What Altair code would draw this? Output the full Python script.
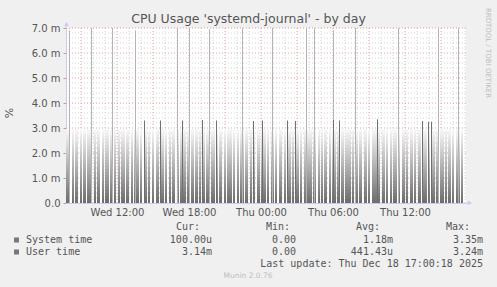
import altair as alt
import pandas as pd

# ---------------- data (x = 5-minute sample index, 0 = Wed 07:45) ----------------
x_tick_index = [51, 123, 195, 267, 339]
x_tick_labels = ["Wed 12:00", "Wed 18:00", "Thu 00:00", "Thu 06:00", "Thu 12:00"]
major_vgrid = [15, 51, 87, 123, 159, 195, 231, 267, 303, 339, 375]
minor_vgrid = [3, 27, 39, 63, 75, 99, 111, 135, 147, 171, 183, 207, 219, 243, 255,
               279, 291, 315, 327, 351, 363, 387, 399]
y_ticks = [0, 1, 2, 3, 4, 5, 6, 7]
y_minor = [0.2, 0.4, 0.6, 0.8, 1.2, 1.4, 1.6, 1.8, 2.2, 2.4, 2.6, 2.8, 3.2, 3.4, 3.6, 3.8,
           4.2, 4.4, 4.6, 4.8, 5.2, 5.4, 5.6, 5.8, 6.2, 6.4, 6.6, 6.8]

# base activity (gradient blocks): widths of busy blocks and idle gaps, in samples
bar_widths = [4, 2, 3, 2, 3, 5, 2, 3, 2, 4,
              3, 2, 2, 4, 3, 2, 5, 2, 3, 2,
              2, 3, 4, 2, 2, 3, 2, 6, 2, 3,
              3, 2, 2, 3, 4, 2, 3, 2, 5, 2,
              2, 4, 3, 2, 2, 3, 5, 2, 3, 2,
              3, 2, 4, 2, 3, 2, 2, 5, 3, 2,
              2, 3, 2, 4, 2, 3, 6, 2, 2, 3,
              3, 2, 5, 2, 3, 2, 2, 4, 2, 3,
              2, 3, 2, 3, 5, 2, 3, 2, 4, 2,
              3, 2, 4, 2]
gap_widths = [2, 1, 2, 1, 1, 2, 1, 2, 1, 1,
              1, 2, 1, 1, 2, 1, 1, 2, 1, 2,
              2, 1, 1, 2, 1, 2, 1, 1, 2, 1,
              1, 2, 1, 2, 1, 1, 2, 1, 1, 2,
              1, 1, 2, 1, 2, 1, 1, 2, 1, 2,
              2, 1, 1, 2, 1, 2, 1, 1, 2, 1,
              1, 2, 1, 1, 2, 1, 1, 2, 1, 2,
              1, 2, 1, 2, 1, 2, 1, 1, 2, 1,
              2, 1, 2, 1, 1, 2, 1, 2, 1, 1,
              1, 2, 1, 2]
bar_level = 2.95  # m%

# short dark spikes (~3.3 m)
dark_spike_idx = [78, 94, 116, 136, 150, 187, 196, 221, 229, 267, 273, 311, 356, 362, 365]
dark_spike_val = [3.30, 3.30, 3.30, 3.32, 3.30, 3.28, 3.30, 3.30, 3.28, 3.32, 3.30, 3.35, 3.28, 3.24, 3.25]
# tall thin spikes
tall_spike_idx = [3, 25, 46, 69, 111, 123, 143, 176, 206, 240, 248, 267, 289, 332, 372, 392]
tall_spike_val = [6.9, 7.0, 7.0, 6.9, 7.0, 7.0, 6.95, 7.0, 7.0, 7.0, 7.0, 6.9, 7.0, 7.0, 7.0, 7.0]

title_text = "CPU Usage 'systemd-journal' - by day"
legend_names = ["System time", "User time"]
legend_cur = ["100.00u", "3.14m"]
legend_min = ["0.00", "0.00"]
legend_avg = ["1.18m", "441.43u"]
legend_max = ["3.35m", "3.24m"]
last_update = "Last update: Thu Dec 18 17:00:18 2025"
footer = "Munin 2.0.76"
side_text = "RRDTOOL / TOBI OETIKER"

# ---------------- build tables ----------------
rows = []
pos = 0
for w, g in zip(bar_widths, gap_widths):
    rows.append({"x": pos, "v": bar_level})
    rows.append({"x": pos + w, "v": 0.0})
    pos += w + g
rows.append({"x": 400, "v": 0.0})
area_df = pd.DataFrame(rows)

dark_df = pd.DataFrame({"x": [i + 0.5 for i in dark_spike_idx], "v": dark_spike_val})
tall_df = pd.DataFrame({"x": [i + 0.5 for i in tall_spike_idx], "v": tall_spike_val})

XS = alt.Scale(domain=[0, 400], nice=False, zero=False)
YS = alt.Scale(domain=[0, 7], nice=False, zero=True)

FONT = "DejaVu Sans"
MONO = "DejaVu Sans Mono"
TXT = "#555555"

label_expr = "[" + ",".join("'%s'" % s for s in x_tick_labels) + "][indexof([" + \
    ",".join(str(v) for v in x_tick_index) + "], datum.value)]"

X_AX = alt.Axis(values=x_tick_index, labelExpr=label_expr, title=None, grid=False, ticks=False,
                domainColor="#c8ccf0", labelFont=FONT, labelFontSize=10, labelColor=TXT,
                labelPadding=4)
Y_AX = alt.Axis(values=y_ticks,
                labelExpr="datum.value == 0 ? '0.0' : format(datum.value, '.1f') + ' m'",
                title=None, grid=False, tickColor="#d89090", tickSize=3,
                domainColor="#c8ccf0", labelFont=FONT, labelFontSize=10, labelColor=TXT,
                labelPadding=3)


def X(field):
    return alt.X(field + ":Q", scale=XS, axis=X_AX)


def Y(field):
    return alt.Y(field + ":Q", scale=YS, axis=Y_AX)


def hrules(vals, color):
    return alt.Chart(pd.DataFrame({"y": vals})).mark_rule(
        color=color, strokeWidth=1, strokeDash=[1, 2]
    ).encode(y=Y("y"))


def vrules(vals, color):
    return alt.Chart(pd.DataFrame({"x": vals})).mark_rule(
        color=color, strokeWidth=1, strokeDash=[1, 2]
    ).encode(x=X("x"))


area = alt.Chart(area_df).mark_area(
    interpolate="step-after",
    color=alt.Gradient(
        gradient="linear",
        stops=[alt.GradientStop(color="#f8f8f8", offset=0),
               alt.GradientStop(color="#6c6c6c", offset=1)],
        x1=0, x2=0, y1=0, y2=1,
    ),
).encode(x=X("x"), y=Y("v"))

tall = alt.Chart(tall_df).mark_rule(color="#b4b4b4", strokeWidth=1).encode(
    x=X("x"), y=Y("v"), y2=alt.datum(0))
dark = alt.Chart(dark_df).mark_rule(color="#707070", strokeWidth=1).encode(
    x=X("x"), y=Y("v"), y2=alt.datum(0))


def txt(text, x, y, align="left", size=10, color=TXT, font=MONO, angle=0):
    kw = dict(align=align, baseline="middle", fontSize=size, color=color, font=font)
    if angle:
        kw["angle"] = angle
    return alt.Chart(pd.DataFrame({"t": [text]})).mark_text(**kw).encode(
        text="t:N", x=alt.value(x - 66), y=alt.value(y - 28))


one = pd.DataFrame({"a": [0]})
layers = [
    hrules(y_minor, "#d4d4d4"),
    vrules(minor_vgrid, "#d4d4d4"),
    hrules(y_ticks[1:], "#e4a0a0"),
    vrules(major_vgrid, "#e4a0a0"),
    area, tall, dark,
    # axis extensions and arrows
    alt.Chart(one).mark_rule(color="#c8ccf0").encode(
        x=alt.value(0), y=alt.value(-5), y2=alt.value(0)),
    alt.Chart(one).mark_rule(color="#c8ccf0").encode(
        x=alt.value(400), x2=alt.value(404), y=alt.value(175)),
    alt.Chart(one).mark_point(
        shape="triangle-up", filled=True, color="#c8ccf0", size=22, opacity=1).encode(
        x=alt.value(0.5), y=alt.value(-4)),
    alt.Chart(one).mark_point(
        shape="triangle-right", filled=True, color="#c8ccf0", size=22, opacity=1).encode(
        x=alt.value(404), y=alt.value(175)),
    # texts
    txt(title_text, 248.5, 19, align="center", size=12.5, font=FONT),
    txt("%", 10, 113, align="center", size=11, font=FONT, angle=270),
    txt(side_text, 488, 53, align="center", size=7, color="#bdbdbd", font=FONT, angle=90),
    txt("Cur:", 200, 227, align="right"),
    txt("Min:", 290, 227, align="right"),
    txt("Avg:", 380, 227, align="right"),
    txt("Max:", 470, 227, align="right"),
    txt(last_update, 483, 263.5, align="right"),
    txt(footer, 248, 276, align="center", size=7.5, color="#bdbdbd", font=FONT),
]

row_y = [240, 252]
for i in range(2):
    y = row_y[i]
    layers.append(alt.Chart(one).mark_rect(color="#777777").encode(
        x=alt.value(14 - 66), x2=alt.value(19 - 66),
        y=alt.value(y - 2.5 - 28), y2=alt.value(y + 2.5 - 28)))
    layers.append(txt(legend_names[i], 26, y))
    layers.append(txt(legend_cur[i], 212, y, align="right"))
    layers.append(txt(legend_min[i], 296, y, align="right"))
    layers.append(txt(legend_avg[i], 393, y, align="right"))
    layers.append(txt(legend_max[i], 483, y, align="right"))

chart = alt.layer(*layers).properties(
    width=400, height=175,
    padding={"left": 66, "top": 28, "right": 31, "bottom": 84},
    autosize=alt.AutoSizeParams(type="none"),
    background="#f0f0f0",
).configure_view(fill="white", stroke=None)

chart.save("out.html", embed_options={"renderer": "svg", "actions": False})
